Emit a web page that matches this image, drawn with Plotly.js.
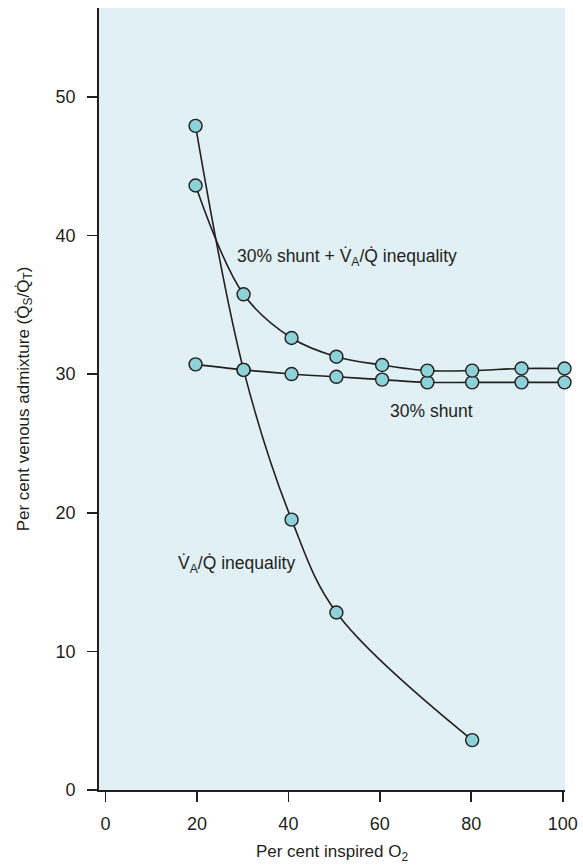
<!DOCTYPE html>
<html>
<head>
<meta charset="utf-8">
<script src="https://cdn.plot.ly/plotly-3.0.1.min.js"></script>
<style>html,body{margin:0;padding:0;background:#fff;}#chart{width:583px;height:865px;}</style>
</head>
<body>
<div id="chart"></div>
<script>
// Per cent inspired O2
var xShunt = [19.7, 30.2, 40.7, 50.5, 60.5, 70.4, 80.2, 91.0, 100.4];
var yShunt = [30.7, 30.3, 30.0, 29.8, 29.6, 29.4, 29.4, 29.4, 29.4];

var xCombined = [19.7, 30.2, 40.7, 50.5, 60.5, 70.4, 80.2, 91.0, 100.4];
var yCombined = [43.6, 35.75, 32.6, 31.25, 30.65, 30.25, 30.25, 30.4, 30.4];

var xVQ = [19.7, 30.2, 40.7, 50.5, 80.2];
var yVQ = [47.9, 30.3, 19.5, 12.8, 3.6];

var xTicks = [0, 20, 40, 60, 80, 100];
var yTicks = [0, 10, 20, 30, 40, 50];

var labelShunt = "30% shunt";
var labelCombined = "30% shunt + V\u0307<sub>A</sub>/Q\u0307 inequality";
var labelVQ = "V\u0307<sub>A</sub>/Q\u0307 inequality";

var ink = "#231f20";
var fill = "#8dd2d9";
var FONT = "Liberation Sans, Arial, sans-serif";

function lineTrace(x, y) {
  return {x: x, y: y, type: "scatter", mode: "lines",
    line: {color: ink, width: 1.6, shape: "spline", smoothing: 1},
    hoverinfo: "skip", showlegend: false, cliponaxis: false};
}
function markerTrace(x, y) {
  return {x: x, y: y, type: "scatter", mode: "markers",
    marker: {symbol: "circle", size: 13, color: fill, line: {color: ink, width: 1.4}},
    showlegend: false, cliponaxis: false};
}

var data = [
  lineTrace(xShunt, yShunt),
  lineTrace(xCombined, yCombined),
  lineTrace(xVQ, yVQ),
  markerTrace(xShunt, yShunt),
  markerTrace(xCombined, yCombined),
  markerTrace(xVQ, yVQ)
];

var layout = {
  width: 583, height: 865,
  margin: {l: 99, r: 18, t: 8, b: 75},
  paper_bgcolor: "#ffffff",
  plot_bgcolor: "#e1f0f4",
  font: {family: FONT, size: 17, color: ink},
  showlegend: false,
  xaxis: {
    range: [-1.42, 100.5], tickvals: xTicks, ticks: "outside", ticklen: 10,
    tickwidth: 1.6, tickcolor: ink, showline: true, linecolor: ink, linewidth: 1.8,
    showgrid: false, zeroline: false, ticklabelstandoff: 7,
    tickfont: {size: 18, color: ink},
    title: {text: "Per cent inspired O<sub>2</sub>", font: {size: 17, color: ink}, standoff: 12}
  },
  yaxis: {
    range: [0, 56.4], tickvals: yTicks, ticks: "outside", ticklen: 10,
    tickwidth: 1.6, tickcolor: ink, showline: true, linecolor: ink, linewidth: 1.8,
    showgrid: false, zeroline: false, ticklabelstandoff: 8,
    tickfont: {size: 18, color: ink},
    title: {text: "Per cent venous admixture (Q\u0307<sub>S</sub>/Q\u0307<sub>T</sub>)", font: {size: 17, color: ink}, standoff: 22}
  },
  annotations: [
    {x: 28.3, y: 38.4, xref: "x", yref: "y", text: labelCombined, showarrow: false,
     xanchor: "left", yanchor: "middle", font: {size: 17.5, color: ink}},
    {x: 61.7, y: 27.3, xref: "x", yref: "y", text: labelShunt, showarrow: false,
     xanchor: "left", yanchor: "middle", font: {size: 17.5, color: ink}},
    {x: 15.4, y: 16.3, xref: "x", yref: "y", text: labelVQ, showarrow: false,
     xanchor: "left", yanchor: "middle", font: {size: 17.5, color: ink}}
  ]
};

Plotly.newPlot("chart", data, layout, {displayModeBar: false, staticPlot: true});
</script>
</body>
</html>
